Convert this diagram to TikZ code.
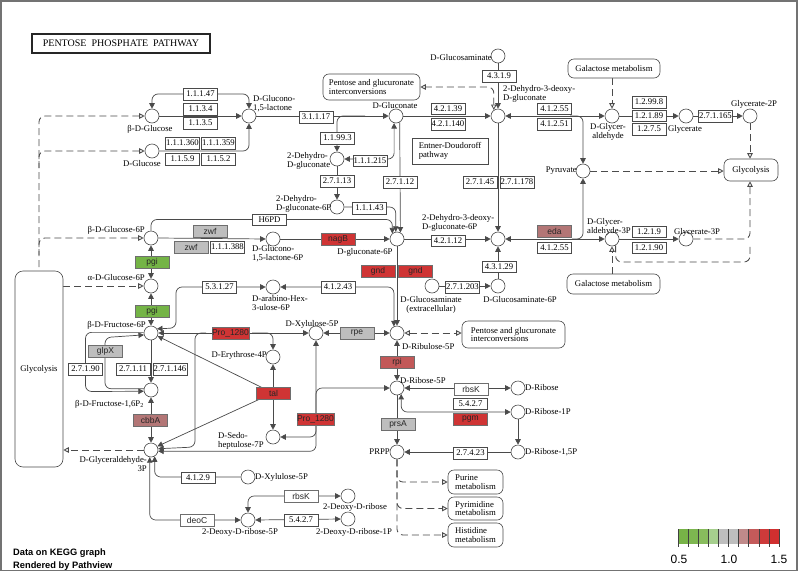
\documentclass[tikz,border=0pt]{standalone}
\usepackage{fontspec}
\setmainfont{Liberation Serif}
\newfontfamily\sanf{Liberation Sans}
\usetikzlibrary{arrows.meta,calc}
\pgfdeclarelayer{back}
\pgfdeclarelayer{bg}
\pgfsetlayers{back,bg,main}
\newcommand\mylbl{\fontsize{8.7}{8.9}\selectfont}
\newcommand\mygene{\sanf\fontsize{8.5}{9}\selectfont}
\definecolor{ggreen}{HTML}{74B446}
\definecolor{ggrey}{HTML}{BEBEBE}
\definecolor{gred}{HTML}{CF3434}
\definecolor{grpi}{HTML}{C25858}
\definecolor{gros}{HTML}{B37676}
\definecolor{lncol}{HTML}{4A4A4A}
\definecolor{lga}{HTML}{77B347}
\definecolor{lgb}{HTML}{7DB650}
\definecolor{lgc}{HTML}{88BC5D}
\definecolor{lgd}{HTML}{A6CF8E}
\definecolor{lge}{HTML}{BEBEBE}
\definecolor{lgf}{HTML}{C08A8A}
\definecolor{lgg}{HTML}{C45A5A}
\definecolor{lgh}{HTML}{CD3A3A}
\definecolor{lgi}{HTML}{D02F2F}
\tikzset{
 cpd/.style={circle,draw=lncol,fill=white,minimum size=14pt,inner sep=0pt,line width=0.6pt},
 ec/.style={draw=lncol,fill=white,minimum width=34pt,minimum height=11.5pt,inner sep=0pt,font=\mylbl,line width=0.5pt},
 gene/.style={draw=lncol!80,minimum width=34pt,minimum height=12pt,inner sep=0pt,font=\mygene,text=black!85,line width=0.5pt},
 lbl/.style={inner sep=0pt,font=\mylbl,align=left},
 lblc/.style={inner sep=0pt,font=\mylbl,align=center},
 mapbox/.style={draw=lncol,rounded corners=6pt,fill=white,inner sep=0pt,font=\mylbl,align=left,line width=0.6pt},
 ln/.style={draw=lncol,line width=0.7pt,rounded corners=6pt},
 arr/.style={ln,-{Triangle[length=5.5pt,width=5.5pt]}},
 arrb/.style={ln,{Triangle[length=5.5pt,width=5.5pt]}-{Triangle[length=5.5pt,width=5.5pt]}},
 dsh/.style={ln,draw=black!70,line width=0.85pt,dash pattern=on 7pt off 4pt},
 oend/.style={-{Triangle[open,length=5.5pt,width=5.5pt]}},
 ostart/.style={{Triangle[open,length=5.5pt,width=5.5pt]}-},
 oboth/.style={{Triangle[open,length=5.5pt,width=5.5pt]}-{Triangle[open,length=5.5pt,width=5.5pt]}}
}
\begin{document}
\begin{tikzpicture}[x=1pt,y=-1pt]
\useasboundingbox (0,0) rectangle (800,573);
\begin{pgfonlayer}{back}
\fill[white] (0,0) rectangle (800,573);
\end{pgfonlayer}
\draw[black!55,line width=1.5pt] (0.75,0.75) rectangle (797,570.5);

% title
\node[draw=black!85,line width=1.6pt,minimum width=178pt,minimum height=19pt,inner sep=0pt,font=\fontsize{10}{10}\selectfont] (title) at (121,43.5) {PENTOSE\hspace{5pt}PHOSPHATE\hspace{5pt}PATHWAY};

% compounds
\node[cpd] (bglc) at (152,116) {};
\node[cpd] (glc) at (152,151) {};
\node[cpd] (lac) at (249,116) {};
\node[cpd] (gcn) at (396,116) {};
\node[cpd] (dg) at (337,159) {};
\node[cpd] (dg6p) at (337,207) {};
\node[cpd] (kdg) at (498,116) {};
\node[cpd] (gcsm) at (498,56) {};
\node[cpd] (gly) at (612,116) {};
\node[cpd] (glyc) at (686,116) {};
\node[cpd] (g2p) at (750,116) {};
\node[cpd] (pyr) at (583,171) {};
\node[cpd] (bg6p) at (151,238) {};
\node[cpd] (ag6p) at (151,286) {};
\node[cpd] (f6p) at (151,333) {};
\node[cpd] (lac6p) at (273,239) {};
\node[cpd] (g6p) at (397,239) {};
\node[cpd] (kdpg) at (498,239) {};
\node[cpd] (gap2) at (612,239) {};
\node[cpd] (g3p) at (686,239) {};
\node[cpd] (gcsm6p) at (498,286) {};
\node[cpd] (gcsme) at (432,286) {};
\node[cpd] (ara) at (273,287) {};
\node[cpd] (ru5p) at (397,333) {};
\node[cpd] (xu5p) at (316,333) {};
\node[cpd] (e4p) at (273,357) {};
\node[cpd] (f16) at (151,390) {};
\node[cpd] (s7p) at (273,437) {};
\node[cpd] (gap) at (151,450) {};
\node[cpd] (r5p) at (397,388) {};
\node[cpd] (rib) at (518,388) {};
\node[cpd] (r1p) at (518,412) {};
\node[cpd] (r15p) at (518,452) {};
\node[cpd] (prpp) at (397,452) {};
\node[cpd] (xu5pb) at (248,477) {};
\node[cpd] (dr5p) at (248,520) {};
\node[cpd] (dr) at (348,496) {};
\node[cpd] (dr1p) at (348,519) {};

% compound labels
\node[lblc] (l1) at (150,129) {β-D-Glucose};
\node[lblc] (l2) at (142,164) {D-Glucose};
\node[lbl,anchor=west] (l3) at (253,104) {D-Glucono-\\1,5-lactone};
\node[lblc] (l4) at (395,106) {D-Gluconate};
\node[lbl,anchor=west] (l5) at (287,161) {2-Dehydro-\\D-gluconate};
\node[lbl,anchor=west] (l6) at (276,204) {2-Dehydro-\\D-gluconate-6P};
\node[lbl,anchor=west] (l7) at (503,93.5) {2-Dehydro-3-deoxy-\\D-gluconate};
\node[lbl,anchor=east] (l8) at (492,58) {D-Glucosaminate};
\node[lblc] (l9) at (608,132) {D-Glycer-\\aldehyde};
\node[lblc] (l10) at (685,129) {Glycerate};
\node[lblc] (l11) at (754,104) {Glycerate-2P};
\node[lbl,anchor=east] (l12) at (577,171) {Pyruvate};
\node[lbl,anchor=east] (l13) at (145,230) {β-D-Glucose-6P};
\node[lbl,anchor=east] (l14) at (145,278) {α-D-Glucose-6P};
\node[lbl,anchor=east] (l15) at (146,325) {β-D-Fructose-6P};
\node[lbl,anchor=west] (l16) at (252,254) {D-Glucono-\\1,5-lactone-6P};
\node[lblc] (l17) at (365,252) {D-gluconate-6P};
\node[lbl,anchor=west] (l18) at (422,222.5) {2-Dehydro-3-deoxy-\\D-gluconate-6P};
\node[lbl,anchor=west] (l19) at (587,227) {D-Glycer-\\aldehyde-3P};
\node[lblc] (l20) at (697,232) {Glycerate-3P};
\node[lblc] (l21) at (520,300) {D-Glucosaminate-6P};
\node[lblc] (l22) at (431,305) {D-Glucosaminate\\(extracellular)};
\node[lbl,anchor=west] (l23) at (252,303) {D-arabino-Hex-\\3-ulose-6P};
\node[lbl,anchor=west] (l24) at (402,347) {D-Ribulose-5P};
\node[lblc] (l25) at (312,324) {D-Xylulose-5P};
\node[lbl,anchor=east] (l26) at (267,355) {D-Erythrose-4P};
\node[lbl,anchor=east] (l27) at (144,404) {β-D-Fructose-1,6P\textsubscript{2}};
\node[lbl,anchor=west] (l28) at (218,441) {D-Sedo-\\heptulose-7P};
\node[lbl,anchor=east,align=right] (l29) at (147,464) {D-Glyceraldehyde-\\3P};
\node[lbl,anchor=west] (l30) at (400,381) {D-Ribose-5P};
\node[lbl,anchor=west] (l31) at (525,388) {D-Ribose};
\node[lbl,anchor=west] (l32) at (525,412) {D-Ribose-1P};
\node[lbl,anchor=west] (l33) at (525,452) {D-Ribose-1,5P};
\node[lbl,anchor=east] (l34) at (390,452) {PRPP};
\node[lbl,anchor=west] (l35) at (255,477) {D-Xylulose-5P};
\node[lblc] (l36) at (240,532) {2-Deoxy-D-ribose-5P};
\node[lblc] (l37) at (355,507) {2-Deoxy-D-ribose};
\node[lblc] (l38) at (354,532) {2-Deoxy-D-ribose-1P};

% enzymes
\node[ec] (e1) at (200.5,94) {1.1.1.47};
\node[ec] (e2) at (200.5,109) {1.1.3.4};
\node[ec] (e3) at (200.5,123) {1.1.3.5};
\node[ec] (e4) at (182.5,143) {1.1.1.360};
\node[ec] (e5) at (218.5,143) {1.1.1.359};
\node[ec] (e6) at (182.5,159) {1.1.5.9};
\node[ec] (e7) at (218.5,159) {1.1.5.2};
\node[ec] (e8) at (316,117) {3.1.1.17};
\node[ec] (e9) at (337.5,138) {1.1.99.3};
\node[ec] (e10) at (370,160.5) {1.1.1.215};
\node[ec] (e11) at (337,181) {2.7.1.13};
\node[ec] (e12) at (400,182) {2.7.1.12};
\node[ec] (e13) at (369.5,208) {1.1.1.43};
\node[ec] (e14) at (269.5,219.5) {H6PD};
\node[ec] (e15) at (448,108.5) {4.2.1.39};
\node[ec] (e16) at (448,124) {4.2.1.140};
\node[ec] (e17) at (499,76) {4.3.1.9};
\node[ec] (e18) at (554.5,108.5) {4.1.2.55};
\node[ec] (e19) at (554.5,124) {4.1.2.51};
\node[ec] (e20) at (649,102) {1.2.99.8};
\node[ec] (e21) at (649,115.5) {1.2.1.89};
\node[ec] (e22) at (649,129) {1.2.7.5};
\node[ec] (e23) at (715.5,116) {2.7.1.165};
\node[ec] (e24) at (480,182) {2.7.1.45};
\node[ec] (e25) at (517,182) {2.7.1.178};
\node[ec] (e26) at (448,240.5) {4.2.1.12};
\node[ec] (e27) at (554.5,247.5) {4.1.2.55};
\node[ec] (e28) at (499,266.5) {4.3.1.29};
\node[ec] (e29) at (462.5,287) {2.7.1.203};
\node[ec] (e30) at (649,231.5) {1.2.1.9};
\node[ec] (e31) at (649,247.5) {1.2.1.90};
\node[ec] (e32) at (227.5,247) {1.1.1.388};
\node[ec] (e33) at (219.5,287) {5.3.1.27};
\node[ec] (e34) at (338,287) {4.1.2.43};
\node[ec] (e35) at (85.5,369) {2.7.1.90};
\node[ec] (e36) at (133,369) {2.7.1.11};
\node[ec] (e37) at (170,369) {2.7.1.146};
\node[ec] (e38) at (198,477.5) {4.1.2.9};
\node[ec] (e39) at (301,520) {5.4.2.7};
\node[ec] (e40) at (470.5,403.5) {5.4.2.7};
\node[ec] (e41) at (470.5,453) {2.7.4.23};

% genes
\node[gene,fill=ggrey] (zwf1) at (210,231) {zwf};
\node[gene,fill=ggrey] (zwf2) at (191,247) {zwf};
\node[gene,fill=gred] (nagB) at (338,239) {nagB};
\node[gene,fill=gred] (gnd1) at (378,271.5) {gnd};
\node[gene,fill=gred] (gnd2) at (415.5,271.5) {gnd};
\node[gene,fill=ggreen] (pgi1) at (152,262.5) {pgi};
\node[gene,fill=ggreen] (pgi2) at (152,311.5) {pgi};
\node[gene,fill=ggrey] (glpX) at (105.5,351) {glpX};
\node[gene,fill=gred,minimum width=37pt] (pro1) at (230.5,333) {Pro\_1280};
\node[gene,fill=ggrey] (rpe) at (357,333.5) {rpe};
\node[gene,fill=grpi] (rpi) at (397,362) {rpi};
\node[gene,fill=gred] (tal) at (273.5,393) {tal};
\node[gene,fill=gred] (pro2) at (315.5,419) {Pro\_1280};
\node[gene,fill=gros] (cbbA) at (150.5,420.5) {cbbA};
\node[gene,fill=gros] (eda) at (554.5,231) {eda};
\node[gene,fill=ggrey] (prsA) at (398,424) {prsA};
\node[gene,fill=white] (rbsKa) at (471,389) {rbsK};
\node[gene,fill=gred] (pgm) at (470.5,419.5) {pgm};
\node[gene,fill=white] (deoC) at (197,520) {deoC};
\node[gene,fill=white] (rbsKb) at (301,496) {rbsK};

% map boxes
\node[mapbox,minimum width=97pt,minimum height=26pt] (mpgT) at (371.5,87) {Pentose and glucuronate\\interconversions};
\node[draw=lncol,fill=white,minimum width=76pt,minimum height=26pt,inner sep=0pt,font=\mylbl,align=left,line width=0.6pt] (med) at (450,151) {Entner-Doudoroff\\pathway};
\node[mapbox,minimum width=92pt,minimum height=19pt] (mgalA) at (614,68.5) {Galactose metabolism};
\node[mapbox,minimum width=93pt,minimum height=20pt] (mgalB) at (613.5,284) {Galactose metabolism};
\node[mapbox,minimum width=54pt,minimum height=22pt] (mglyR) at (751,170) {Glycolysis};
\node[mapbox,minimum width=48pt,minimum height=196pt,rounded corners=8pt] (mglyL) at (39,369) {Glycolysis};
\node[mapbox,minimum width=103pt,minimum height=27pt] (mpgM) at (513.5,334.5) {Pentose and glucuronate\\interconversions};
\node[mapbox,minimum width=55pt,minimum height=24pt] (mpur) at (475.5,482) {Purine\\metabolism};
\node[mapbox,minimum width=55pt,minimum height=23pt] (mpyr) at (475.5,508.5) {Pyrimidine\\metabolism};
\node[mapbox,minimum width=55pt,minimum height=24pt] (mhis) at (475.5,535) {Histidine\\metabolism};

% connectors
\begin{pgfonlayer}{bg}
\draw[arr] (e1.west) -| (bglc.north);
\draw[arr] (e1.east) -| (lac.north);
\draw[arr] (bglc.east) -- (lac.west);
\draw[arr] (glc.east) -| (lac.south);
\draw[dsh,ostart] (bglc.west) -| (mglyL.north);
\draw[dsh,ostart] (glc.west) -| (39,168);
\draw[dsh,ostart] (bg6p.west) -| (39,255);
\draw[dsh,oend] (mglyL.east |- ag6p) -- (ag6p.west);
\draw[dsh,oend] (gap.west) -- (gap.west -| mglyL.east);
\draw[arr] (lac.east) -- (gcn.west);
\draw[arr] (365,116) -| (dg.north);
\draw[arrb] (dg.east) -| (gcn.-105);
\draw[arr] (dg.south) -- (dg6p.north);
\draw[arr] (dg6p.east) -| (g6p.100);
\draw[arr] (gcn.-60) -- (g6p.62);
\draw[arr] (bg6p.north) |- (e14.west) -- (e14.east) -| (g6p.130);
\draw[arr] (bg6p.east) -- (lac6p.west);
\draw[arr] (lac6p.east) -- (g6p.west);
\draw[arr] (g6p.south) -- (ru5p.north);
\draw[arr] (g6p.east) -- (kdpg.west);
\draw[arr] (gcsm.south) -- (kdg.north);
\draw[dsh,oboth] (kdg.125) |- (mpgT.east);
\draw[arr] (gcn.east) -- (kdg.west);
\draw[arrb] (gly.west) -- (kdg.east);
\draw[arr] (570,116) -| (pyr.north);
\draw[dsh,oend] (gly.north |- mgalA.south) -- (gly.north);
\draw[arr] (gly.east) -- (glyc.west);
\draw[arr] (glyc.east) -- (g2p.west);
\draw[dsh,oend] (g2p.south) -- (g2p.south |- mglyR.north);
\draw[dsh,oend] (pyr.east) -- (pyr.east -| mglyR.west);
\draw[arr] (kdg.south) -- (kdpg.north);
\draw[arr] (gcsm6p.north) -- (kdpg.south);
\draw[arr] (gcsme.east) -- (gcsm6p.west);
\draw[arrb] (gap2.west) -- (kdpg.east);
\draw[arr] (572,239) -| (pyr.south);
\draw[arr] (gap2.east) -- (g3p.west);
\draw[dsh,oend] (g3p.east) -| (g2p.south |- mglyR.south);
\draw[dsh] (gap2.-60) |- (750,262) -- (750,246);
\draw[dsh,oend] (gap2.south |- mgalB.north) -- (gap2.south);
\draw[arrb] (bg6p.south) -- (ag6p.north);
\draw[arrb] (ag6p.south) -- (f6p.north);
\draw[arrb] (ara.west) -| (176,328) -- (f6p.35);
\draw[arrb] (ara.east) -| (ru5p.115);
\draw[arrb] (xu5p.east) -- (ru5p.west);
\draw[dsh,oboth] (ru5p.east) -- (ru5p.east -| mpgM.west);
\draw[arrb] (ru5p.south) -- (r5p.north);
\draw[arrb] (xu5p.west) -- (f6p.east);
\draw[arr] (252,333) -| (e4p.north);
\draw[arr] (206,333) -| (195,447) -- (gap.10);
\draw[arrb] (s7p.north) -- (e4p.south);
\draw[arrb] (f6p.-25) -- (273,393) -- (gap.30);
\draw[arrb] (r5p.west) -| (316,437) -- (s7p.east);
\draw[arrb] (xu5p.south) |- (gap.-10);
\draw[arr] (f16.170) -| (105,337.5) -- (f6p.-165);
\draw[arr] (f6p.175) -| (85.5,391.5) -- (f16.-170);
\draw[arr] (f6p.south) -- (f16.north);
\draw[arrb] (f16.south) -- (gap.north);
\draw[arr] (xu5pb.west) -| (gap.-60);
\draw[arrb] (dr5p.west) -| (gap.-100);
\draw[arrb] (dr.west) -| (dr5p.north);
\draw[arrb] (dr5p.east) -- (dr1p.west);
\draw[arrb] (rib.west) -- (r5p.east);
\draw[arrb] (r5p.-55) |- (r1p.west);
\draw[arr] (r1p.south) -- (r15p.north);
\draw[arr] (r15p.west) -- (prpp.east);
\draw[arr] (r5p.south) -- (prpp.north);
\draw[dsh,oend] (prpp.south) |- (mpur.west);
\draw[dsh,oend] (prpp.south) |- (mpyr.west);
\draw[dsh,oend] (prpp.south) |- (mhis.west);
\end{pgfonlayer}

% legend
\foreach \c [count=\i from 0] in {lga,lgb,lgc,lgd,lge,lge,lgf,lgg,lgh,lgi}
  \fill[\c] (678+10.1*\i,529) rectangle ++(10.1,15);
\foreach \i in {0,...,10}
  \draw[black!75,line width=0.5pt] (678+10.1*\i,529) -- ++(0,18);
\node[font=\sanf\fontsize{12}{12}\selectfont,inner sep=0pt] (t05) at (679,559) {0.5};
\node[font=\sanf\fontsize{12}{12}\selectfont,inner sep=0pt] (t10) at (729,559) {1.0};
\node[font=\sanf\fontsize{12}{12}\selectfont,inner sep=0pt] (t15) at (779,559) {1.5};
\node[anchor=west,font=\sanf\bfseries\fontsize{9.3}{13}\selectfont,align=left,inner sep=0pt] (credit) at (13,560) {Data on KEGG graph\\Rendered by Pathview};
\end{tikzpicture}
\end{document}
